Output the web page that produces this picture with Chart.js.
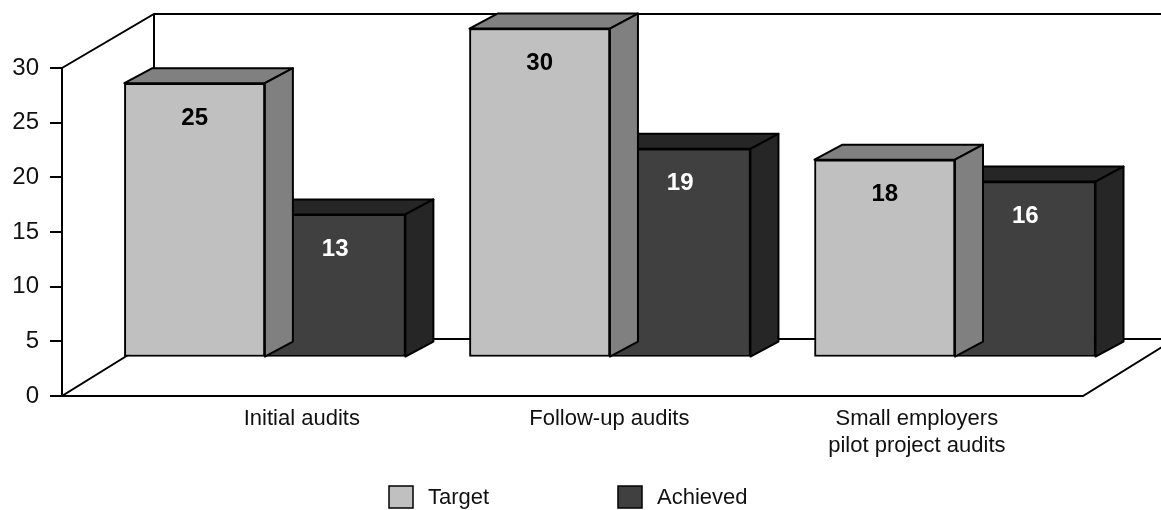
<!DOCTYPE html>
<html>
<head>
<meta charset="utf-8">
<script src="https://cdn.jsdelivr.net/npm/chart.js@4.4.1/dist/chart.umd.min.js"></script>
<style>
  html, body { margin: 0; padding: 0; background: #fff; }
  #wrap { width: 1161px; height: 510px; position: relative; }
</style>
</head>
<body>
<div id="wrap"><canvas id="chart"></canvas></div>
<script>
const categories = ['Initial audits', 'Follow-up audits', 'Small employers\npilot project audits'];
const seriesNames = ['Target', 'Achieved'];
const targetValues = [25, 30, 18];
const achievedValues = [13, 19, 16];
const yTicks = [0, 5, 10, 15, 20, 25, 30];

const FONT = '"Liberation Sans", Arial, Helvetica, sans-serif';
const DEPTH_X = 28, DEPTH_Y = -15;   // depth of each box
const WALL_X = 92, WALL_Y = -57;     // depth of floor and side wall
const faces = [
    { front: '#c0c0c0', top: '#808080', side: '#808080', text: '#000' },
    { front: '#404040', top: '#262626', side: '#262626', text: '#fff' }
];

// floor, back wall and front axis line
function drawFrame(chart){
    const ctx = chart.ctx;
    const area = chart.chartArea;
    const yf = chart.scales.yf;
    const x0 = area.left;
    const y0 = yf.getPixelForValue(0);
    const yTop = yf.getPixelForValue(yTicks[yTicks.length - 1]);
    const floorRight = area.right - 78;

    ctx.save();
    ctx.strokeStyle = '#000';
    ctx.lineWidth = 2;
    ctx.lineJoin = 'miter';
    ctx.beginPath();
    ctx.moveTo(x0, yTop);
    ctx.lineTo(x0 + WALL_X, area.top);
    ctx.lineTo(area.right, area.top);
    ctx.moveTo(x0 + WALL_X, area.top);
    ctx.lineTo(x0 + WALL_X, y0 + WALL_Y);
    ctx.lineTo(area.right, y0 + WALL_Y);
    ctx.moveTo(x0 + WALL_X, y0 + WALL_Y);
    ctx.lineTo(x0, y0);
    ctx.lineTo(floorRight, y0);
    ctx.lineTo(floorRight + WALL_X, y0 + WALL_Y);
    ctx.moveTo(x0, yTop);
    ctx.lineTo(x0, y0);
    ctx.stroke();
    ctx.restore();
}

function poly(ctx, pts, fill){
    ctx.beginPath();
    ctx.moveTo(pts[0][0], pts[0][1]);
    for(let i = 1; i < pts.length; i++){
        ctx.lineTo(pts[i][0], pts[i][1]);
    }
    ctx.closePath();
    ctx.fillStyle = fill;
    ctx.fill();
    ctx.stroke();
}

const box3d = {
    id: 'box3d',
    beforeDatasetsDraw(chart){
        drawFrame(chart);
    },
    afterDatasetDraw(chart, args){
        const ctx = chart.ctx;
        const face = faces[args.index];
        ctx.save();
        ctx.strokeStyle = '#000';
        ctx.lineWidth = 2;
        ctx.lineJoin = 'round';
        args.meta.data.forEach(bar => {
            const l = bar.x - bar.width / 2;
            const r = bar.x + bar.width / 2;
            const t = bar.y;
            const b = bar.base;
            poly(ctx, [[l, t], [l + DEPTH_X, t + DEPTH_Y], [r + DEPTH_X, t + DEPTH_Y], [r, t]], face.top);
            poly(ctx, [[r, t], [r + DEPTH_X, t + DEPTH_Y], [r + DEPTH_X, b + DEPTH_Y], [r, b]], face.side);
        });
        ctx.restore();
    },
    afterDatasetsDraw(chart){
        const ctx = chart.ctx;
        ctx.save();
        ctx.font = 'bold 24px ' + FONT;
        ctx.textAlign = 'center';
        ctx.textBaseline = 'middle';
        chart.data.datasets.forEach((ds, i) => {
            const meta = chart.getDatasetMeta(i);
            ctx.fillStyle = faces[i].text;
            meta.data.forEach((bar, j) => {
                ctx.fillText(String(ds.data[j].y), bar.x, bar.y + 35);
            });
        });
        ctx.restore();
    },
    afterDraw(chart){
        // legend under the category labels
        const ctx = chart.ctx;
        const legendX = [389, 618];
        const boxTop = 486;
        ctx.save();
        ctx.font = '22px ' + FONT;
        ctx.textBaseline = 'middle';
        ctx.textAlign = 'left';
        chart.data.datasets.forEach((ds, i) => {
            const x = legendX[i];
            ctx.fillStyle = faces[i].front;
            ctx.fillRect(x, boxTop, 24, 22);
            ctx.strokeStyle = '#000';
            ctx.lineWidth = 1.5;
            ctx.strokeRect(x, boxTop, 24, 22);
            ctx.fillStyle = '#111';
            ctx.fillText(ds.label, x + 39, boxTop + 12);
        });
        ctx.restore();
    }
};

function toPoints(values){
    return values.map((v, i) => ({ x: i, y: v }));
}

new Chart(
    document.getElementById('chart'),
    {
        type: 'bar',
        data: {
            datasets: [
                {
                    label: seriesNames[0],
                    data: toPoints(targetValues),
                    backgroundColor: faces[0].front,
                    borderColor: '#000',
                    borderWidth: 2,
                    borderSkipped: false,
                    xAxisID: 'x',
                    yAxisID: 'y'
                },
                {
                    label: seriesNames[1],
                    data: toPoints(achievedValues),
                    backgroundColor: faces[1].front,
                    borderColor: '#000',
                    borderWidth: 2,
                    borderSkipped: false,
                    xAxisID: 'x',
                    yAxisID: 'y'
                }
            ]
        },
        options: {
            responsive: true,
            maintainAspectRatio: false,
            animation: false,
            barThickness: 140.5,
            layout: { padding: { top: 14, left: 0, right: 0, bottom: 0 } },
            plugins: {
                legend: { display: false },
                tooltip: { enabled: false }
            },
            scales: {
                // boxes sit on the back floor
                x: {
                    type: 'linear',
                    display: false,
                    offset: false,
                    min: -0.588,
                    max: 2.597
                },
                y: {
                    type: 'linear',
                    display: false,
                    min: -3.61,
                    max: 31.33
                },
                // category names along the front floor edge
                xl: {
                    type: 'linear',
                    position: 'bottom',
                    offset: false,
                    min: -0.78,
                    max: 2.794,
                    grid: { display: false, drawTicks: false, offset: false },
                    border: { display: false },
                    afterBuildTicks: (scale) => {
                        scale.ticks = categories.map((c, i) => ({ value: i }));
                    },
                    afterFit: (scale) => {
                        scale.height = 114;
                        scale.paddingLeft = 0;
                        scale.paddingRight = 0;
                    },
                    ticks: {
                        padding: 9,
                        autoSkip: false,
                        maxRotation: 0,
                        color: '#111',
                        font: { family: FONT, size: 22, lineHeight: 1.25 },
                        callback: (value) => categories[value].split('\n')
                    }
                },
                // value axis on the front plane
                yf: {
                    type: 'linear',
                    position: 'left',
                    min: 0,
                    max: 34.94,
                    grid: {
                        drawOnChartArea: false,
                        drawTicks: true,
                        tickLength: 12,
                        color: '#000',
                        lineWidth: 2
                    },
                    border: { display: false },
                    afterBuildTicks: (scale) => {
                        scale.ticks = yTicks.map(v => ({ value: v }));
                    },
                    afterFit: (scale) => {
                        scale.width = 62;
                        scale.paddingTop = 0;
                        scale.paddingBottom = 0;
                    },
                    ticks: {
                        padding: 11,
                        color: '#111',
                        font: { family: FONT, size: 24 }
                    }
                }
            }
        },
        plugins: [box3d]
    }
);
</script>
</body>
</html>
